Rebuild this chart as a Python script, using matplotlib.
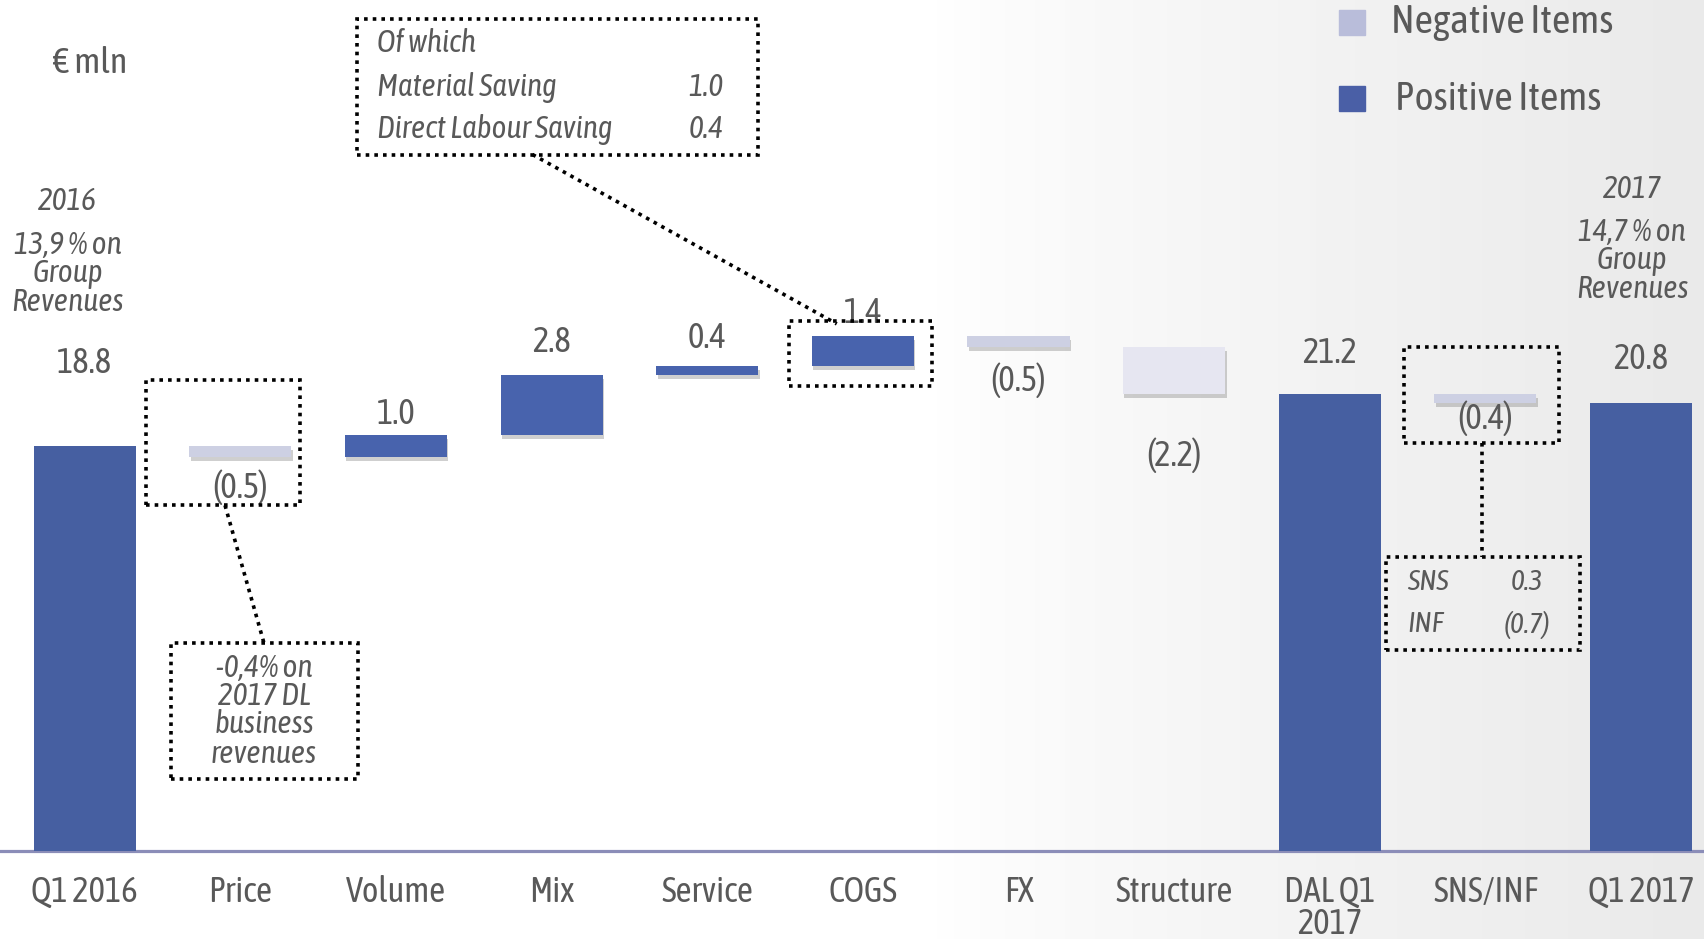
import numpy as np
import matplotlib
matplotlib.use("Agg")
import matplotlib.pyplot as plt
from matplotlib.patches import Rectangle
from matplotlib import patheffects as pe

plt.rcParams['font.family'] = ['Asap Condensed', 'DejaVu Sans']

categories = ["Q1 2016", "Price", "Volume", "Mix", "Service", "COGS", "FX",
              "Structure", "DAL Q1\n2017", "SNS/INF", "Q1 2017"]
values = [18.8, -0.5, 1.0, 2.8, 0.4, 1.4, -0.5, -2.2, 21.2, -0.4, 20.8]
is_total = [True, False, False, False, False, False, False, False, True, False, True]

sns_inf = [("SNS", "0.3"), ("INF", "(0.7)")]
cogs_split = [("Material Saving", "1.0"), ("Direct Labour Saving", "0.4")]

# value label heights (layout only)
label_y = [22.64, 16.89, 20.27, 23.6, 23.8, 24.96, 21.84, 18.36, 23.1, 20.07, 22.84]

TOTAL = "#465FA1"
POS = "#4863AD"
NEG = "#CDD0E3"
NEG_LIGHT = "#E6E6F1"
TXT = "#595959"

fig = plt.figure(figsize=(17.04, 9.39), dpi=100)

# light background on the right
bg = fig.add_axes([0, 0, 1, 1], zorder=-5)
grad = np.linspace(0, 1, 400)
grad = np.clip((grad - 0.55) / 0.45, 0, 1) ** 0.8
bg.imshow(np.tile(grad, (10, 1)), cmap=matplotlib.colors.LinearSegmentedColormap.from_list(
    "bg", ["#FFFFFF", "#EAEAEA"]), aspect="auto", extent=[0, 1, 0, 1], vmin=0, vmax=1)
bg.axis("off")

ax = fig.add_axes([0, 0.09375, 1, 0.90625])
ax.patch.set_alpha(0)

x = np.arange(len(categories))
bottoms = []
heights = []
colors = []
run = 0.0
for v, t in zip(values, is_total):
    if t:
        bottoms.append(0)
        heights.append(v)
        run = v
        colors.append(TOTAL)
    else:
        start = run
        run = run + v
        bottoms.append(min(start, run))
        heights.append(abs(v))
        if v >= 0:
            colors.append(POS)
        elif v < -1:
            colors.append(NEG_LIGHT)
        else:
            colors.append(NEG)

bars = ax.bar(x, heights, bottom=bottoms, width=0.656, color=colors, zorder=3)
for b, t in zip(bars, is_total):
    if not t:
        b.set_path_effects([pe.SimplePatchShadow(offset=(1, -3), shadow_rgbFace="#888888", alpha=0.4),
                            pe.Normal()])

for i, v in enumerate(values):
    s = f"{v:.1f}" if v >= 0 else f"({abs(v):.1f})"
    ax.text(x[i], label_y[i], s, ha="center", va="center", fontsize=25, color=TXT, zorder=5)

ax.set_xlim(-0.545, 10.405)
ax.set_ylim(0, 39.49)
ax.set_xticks(x)
ax.set_xticklabels(categories, fontsize=25, color=TXT, linespacing=0.95)
ax.tick_params(axis="x", length=0, pad=17)
ax.set_yticks([])
for s in ["top", "left", "right"]:
    ax.spines[s].set_visible(False)
ax.spines["bottom"].set_color("#8B8DB8")
ax.spines["bottom"].set_linewidth(2.3)

dot = dict(color="black", linestyle=(0, (1, 1.4)), linewidth=2.6, zorder=6)


def dbox(x0, x1, y0, y1):
    ax.add_patch(Rectangle((x0, y0), x1 - x0, y1 - y0, fill=False, **dot))


it = dict(style="italic", color=TXT, va="center")

# COGS breakdown
dbox(1.746, 4.323, 32.32, 38.63)
ax.text(1.878, 37.47, "Of which", fontsize=22.5, **it)
for (name, val), yy in zip(cogs_split, [35.45, 33.48]):
    ax.text(1.878, yy, name, fontsize=22.5, **it)
    ax.text(4.106, yy, val, fontsize=22.5, ha="right", **it)
ax.plot([2.877, 4.832], [32.32, 24.46], **dot)
dbox(4.525, 5.447, 21.58, 24.61)

# Price note
dbox(0.391, 1.383, 16.04, 21.84)
ax.plot([0.901, 1.152], [16.04, 9.63], **dot)
dbox(0.552, 1.753, 3.33, 9.63)
for s, yy in zip(["-0,4% on", "2017 DL", "business", "revenues"], [8.47, 7.16, 5.85, 4.49]):
    ax.text(1.152, yy, s, fontsize=22.5, ha="center", **it)

# SNS/INF note
dbox(8.478, 9.476, 18.91, 23.40)
ax.plot([8.98, 8.98], [18.91, 13.62], **dot)
dbox(8.359, 9.609, 9.33, 13.62)
for (name, val), yy in zip(sns_inf, [12.46, 10.49]):
    ax.text(8.499, yy, name, fontsize=21, **it)
    ax.text(9.267, yy, val, fontsize=21, ha="center", **it)

# side notes
ax.text(0.035, 36.56, "€ mln", fontsize=26, color=TXT, ha="center", va="center")
for s, yy in zip(["2016", "13,9 % on", "Group", "Revenues"], [30.16, 28.09, 26.78, 25.47]):
    ax.text(-0.112, yy, s, fontsize=22.5, ha="center", **it)
for s, yy in zip(["2017", "14,7 % on", "Group", "Revenues"], [30.71, 28.70, 27.38, 26.07]):
    ax.text(9.944, yy, s, fontsize=22.5, ha="center", **it)

# legend
for (lab, col), yy, tx in zip([("Negative Items", "#B9BDDA"), ("Positive Items", "#4A5FA6")],
                              [38.45, 34.9], [8.394, 8.422]):
    ax.add_patch(Rectangle((8.059, yy - 0.58), 0.167, 1.16, color=col, zorder=4))
    ax.text(tx, yy, lab, fontsize=29, color=TXT, va="center")

fig.savefig("out.png", dpi=100)
